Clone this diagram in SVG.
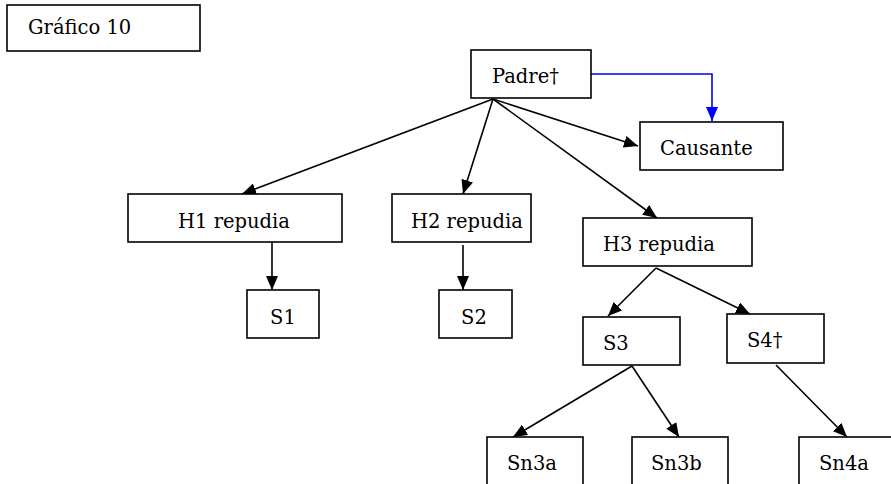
<svg xmlns="http://www.w3.org/2000/svg" width="891" height="484" viewBox="0 0 891 484">
<style>
.box{fill:#fff;stroke:#000;stroke-width:1.6}
.t{font-family:"DejaVu Serif","Liberation Serif",serif;font-size:19.5px;fill:#000}
.c{fill:none;stroke:#000;stroke-width:1.6}
.b{fill:none;stroke:#0000ff;stroke-width:1.6}
</style>
<defs>
<marker id="ah" markerUnits="userSpaceOnUse" markerWidth="14" markerHeight="12" viewBox="0 0 14 12" refX="14" refY="6" orient="auto"><path d="M0,0 L14,6 L0,12 z" fill="#000"/></marker>
<marker id="ahb" markerUnits="userSpaceOnUse" markerWidth="14" markerHeight="12" viewBox="0 0 14 12" refX="14" refY="6" orient="auto"><path d="M0,0 L14,6 L0,12 z" fill="#0000ff"/></marker>
</defs>
<rect width="891" height="484" fill="#fff"/>
<g id="connectors">
<path class="b" d="M591,74 H712 V121" marker-end="url(#ahb)"/>
<line class="c" x1="493" y1="99" x2="638" y2="146" marker-end="url(#ah)"/>
<line class="c" x1="493" y1="99" x2="242" y2="194" marker-end="url(#ah)"/>
<line class="c" x1="493" y1="99" x2="463" y2="194" marker-end="url(#ah)"/>
<line class="c" x1="493" y1="99" x2="657" y2="218" marker-end="url(#ah)"/>
<line class="c" x1="272" y1="242" x2="272" y2="290" marker-end="url(#ah)"/>
<line class="c" x1="463" y1="245" x2="463" y2="290" marker-end="url(#ah)"/>
<line class="c" x1="656" y1="268" x2="608" y2="316" marker-end="url(#ah)"/>
<line class="c" x1="656" y1="268" x2="750" y2="314" marker-end="url(#ah)"/>
<line class="c" x1="632" y1="366" x2="513" y2="437" marker-end="url(#ah)"/>
<line class="c" x1="632" y1="366" x2="679" y2="437" marker-end="url(#ah)"/>
<line class="c" x1="776" y1="365" x2="847" y2="437" marker-end="url(#ah)"/>
</g>
<g id="grafico"><rect class="box" x="7" y="5" width="193" height="46"/><text class="t" x="28" y="34">Gráfico 10</text></g>
<g id="padre"><rect class="box" x="471" y="50" width="120" height="48"/><text class="t" x="492" y="83">Padre†</text></g>
<g id="causante"><rect class="box" x="640" y="122" width="143" height="48"/><text class="t" x="660" y="155">Causante</text></g>
<g id="h1"><rect class="box" x="128" y="194" width="214" height="48"/><text class="t" x="234" y="228" text-anchor="middle">H1 repudia</text></g>
<g id="h2"><rect class="box" x="392" y="194" width="139" height="48"/><text class="t" x="411" y="228">H2 repudia</text></g>
<g id="h3"><rect class="box" x="583" y="218" width="169" height="48"/><text class="t" x="603" y="251">H3 repudia</text></g>
<g id="s1"><rect class="box" x="247" y="290" width="72" height="48"/><text class="t" x="283" y="324" text-anchor="middle">S1</text></g>
<g id="s2"><rect class="box" x="439" y="290" width="73" height="48"/><text class="t" x="474" y="324" text-anchor="middle">S2</text></g>
<g id="s3"><rect class="box" x="583" y="317" width="97" height="48"/><text class="t" x="603" y="350">S3</text></g>
<g id="s4"><rect class="box" x="727" y="314" width="97" height="49"/><text class="t" x="747" y="347">S4†</text></g>
<g id="sn3a"><rect class="box" x="487" y="437" width="96" height="60"/><text class="t" x="507" y="470">Sn3a</text></g>
<g id="sn3b"><rect class="box" x="632" y="437" width="96" height="60"/><text class="t" x="651" y="470">Sn3b</text></g>
<g id="sn4a"><rect class="box" x="799" y="437" width="98" height="60"/><text class="t" x="819" y="470">Sn4a</text></g>
</svg>
